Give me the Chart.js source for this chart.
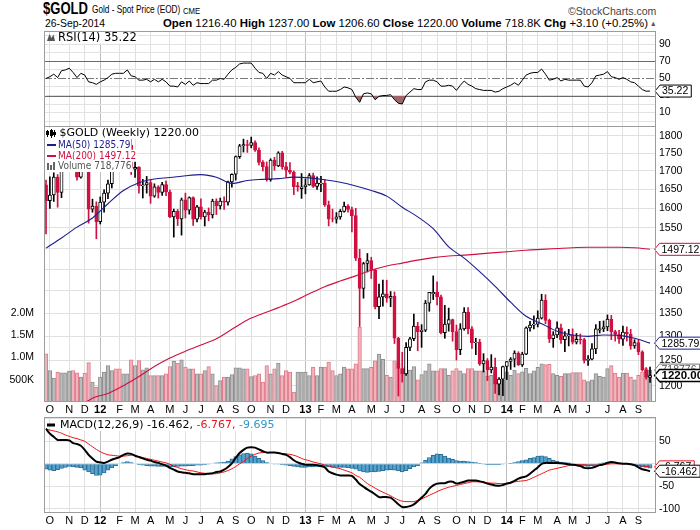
<!DOCTYPE html>
<html>
<head>
<meta charset="utf-8">
<script src="https://cdn.jsdelivr.net/npm/chart.js@4.4.1/dist/chart.umd.min.js"></script>
<style>
html,body{margin:0;padding:0;background:#fff;width:700px;height:530px;overflow:hidden;position:relative}
canvas{position:absolute;left:0}
.t{position:absolute;white-space:nowrap;color:#000;transform-origin:0 0;font-family:"Liberation Sans",Arial,sans-serif}
.t b{font-weight:bold}
</style>
</head>
<body>
<canvas id="cRsi" width="700" height="96" style="top:31px"></canvas>
<canvas id="cMain" width="700" height="291" style="top:126px"></canvas>
<canvas id="cMacd" width="700" height="111" style="top:417px"></canvas>
<script>
// ---------------- DATA (weekly bars, week 0 = 30-Sep-2011 ... week 156 = 26-Sep-2014) ----------------
const symbol = '$GOLD';
const lastDate = '26-Sep-2014';
const opens = [1662,1620,1635,1683,1642,1744,1755,1788,1724,1683,
1746,1711,1598,1606,1566,1616,1640,1665,1738,1725,
1723,1726,1773,1705,1710,1659,1662,1668,1632,1657,
1642,1663,1643,1578,1592,1573,1622,1595,1628,1572,
1604,1578,1590,1583,1619,1606,1619,1616,1670,1691,
1740,1771,1774,1772,1780,1758,1724,1712,1676,1730,
1714,1751,1712,1702,1697,1660,1652,1657,1662,1687,
1658,1664,1667,1609,1573,1572,1578,1592,1606,1597,
1581,1476,1405,1463,1470,1447,1364,1386,1393,1383,
1387,1296,1234,1223,1277,1295,1322,1310,1313,1372,
1393,1396,1386,1308,1326,1336,1310,1272,1316,1352,
1316,1287,1288,1243,1250,1231,1237,1203,1213,1238,
1248,1253,1265,1241,1263,1318,1324,1326,1339,1379,
1334,1295,1303,1318,1293,1301,1302,1288,1294,1293,
1250,1253,1274,1313,1316,1320,1337,1310,1304,1294,
1309,1305,1280,1287,1268,1231,1216.4];
const highs = [1675,1684,1695,1690,1760,1772,1802,1796,1730,1754,
1764,1718,1624,1617,1630,1649,1675,1740,1764,1738,
1745,1790,1792,1726,1712,1677,1685,1675,1665,1660,
1669,1673,1648,1598,1597,1627,1640,1630,1630,1608,
1625,1595,1601,1624,1625,1627,1630,1672,1692,1742,
1775,1790,1787,1796,1785,1765,1729,1725,1734,1738,
1754,1755,1724,1723,1700,1669,1693,1678,1693,1694,
1684,1685,1676,1619,1598,1589,1597,1616,1610,1603,
1600,1497,1466,1487,1478,1450,1415,1424,1424,1398,
1397,1298,1267,1287,1298,1348,1330,1325,1378,1396,
1434,1420,1390,1367,1361,1337,1324,1327,1362,1362,
1321,1296,1294,1264,1254,1262,1255,1216,1239,1248,
1256,1270,1268,1267,1320,1332,1344,1355,1392,1391,
1337,1310,1331,1326,1310,1315,1316,1306,1305,1296,
1260,1285,1325,1332,1333,1346,1345,1313,1313,1322,
1320,1315,1293,1292,1270,1236,1237];
const lows = [1535,1600,1618,1603,1628,1720,1750,1705,1675,1680,
1705,1562,1590,1523,1560,1590,1625,1654,1712,1700,
1710,1723,1690,1682,1640,1627,1640,1613,1629,1627,
1634,1633,1576,1527,1556,1532,1575,1585,1556,1565,
1572,1555,1568,1575,1584,1598,1597,1608,1656,1675,
1735,1753,1752,1765,1755,1717,1700,1672,1672,1702,
1712,1705,1683,1692,1636,1645,1626,1638,1661,1655,
1650,1644,1605,1555,1565,1562,1572,1590,1590,1540,
1470,1321,1383,1443,1428,1359,1338,1365,1374,1364,
1285,1180,1207,1220,1270,1291,1270,1277,1310,1354,
1380,1368,1305,1296,1311,1290,1251,1262,1313,1305,
1275,1262,1240,1227,1210,1225,1185,1182,1181,1212,
1232,1237,1240,1238,1262,1311,1316,1320,1337,1327,
1287,1277,1297,1285,1268,1280,1284,1284,1284,1245,
1240,1251,1264,1307,1310,1312,1293,1290,1285,1281,
1290,1273,1275,1262,1229,1213,1206.6];
const closes = [1620,1635,1683,1642,1744,1755,1788,1724,1683,1746,
1711,1598,1606,1566,1616,1640,1665,1738,1725,1723,
1726,1773,1710,1710,1659,1662,1668,1632,1657,1642,
1663,1643,1578,1592,1573,1622,1595,1628,1572,1604,
1578,1590,1583,1619,1606,1619,1616,1670,1691,1740,
1771,1774,1772,1780,1758,1724,1712,1676,1730,1714,
1751,1712,1702,1697,1657,1657,1657,1662,1687,1658,
1667,1667,1609,1573,1572,1578,1592,1606,1597,1581,
1476,1405,1463,1470,1447,1364,1386,1393,1383,1387,
1296,1234,1223,1277,1295,1322,1310,1313,1372,1396,
1396,1386,1308,1326,1336,1310,1272,1316,1352,1316,
1287,1288,1243,1250,1231,1237,1203,1213,1238,1248,
1253,1265,1241,1263,1318,1324,1326,1339,1379,1334,
1295,1303,1318,1293,1301,1302,1288,1294,1293,1250,
1253,1274,1316,1316,1320,1337,1310,1304,1294,1309,
1305,1280,1287,1268,1231,1216.9,1220];
// weekly volume, thousands
const volumesK = [1085,709,540,672,657,657,695,709,657,560,
650,890,447,333,559,672,822,709,748,748,
635,635,950,822,935,725,770,597,597,597,
597,635,800,920,874,950,784,748,748,635,
635,709,800,635,372,484,559,559,620,770,
770,748,748,575,597,635,447,822,635,748,
874,597,709,672,221,672,672,672,597,784,
597,784,784,897,709,597,635,784,748,748,
860,1685,750,750,780,930,1080,960,600,560,
930,880,750,800,720,800,500,620,700,860,
700,700,750,750,600,700,750,700,640,750,
750,700,700,700,580,600,680,440,500,680,
600,720,640,680,760,640,700,780,860,840,
850,640,600,580,640,640,660,660,660,500,
460,500,640,580,560,750,820,650,560,650,
650,560,500,600,680,750,718.776];
const rsi14 = [50,52,55,51,59,60,62,57,51,56,
54,46,45,43,46,48,51,55,56,56,
56,60,53,52,48,48,49,46,49,46,
49,46,41,41,40,46,43,47,42,45,
44,44,44,48,48,50,49,55,60,63,
67,68,68,68,62,57,56,50,56,54,
58,54,52,50,45,45,45,45,49,45,
46,47,40,35,35,35,37,40,39,37,
28,22,32,33,32,25,29,30,30,31,
25,21,20,30,34,38,37,37,46,48,
48,46,41,41,42,41,36,42,47,43,
41,38,37,36,36,36,34,35,38,40,
42,45,42,48,54,56,57,57,61,55,
48,49,51,47,49,48,48,48,48,41,
40,45,53,54,55,58,52,51,49,51,
49,46,45,41,37,35,35.22];
const macdLine = [78,67,60,53,53,53,52,46,44,40,
31,20,12,5,3,2,5,9,12,15,
20,23,22,18,15,12,9,7,4,2,
-1,-4,-9,-13,-17,-19,-20,-21,-23,-23,
-23,-23,-22,-21,-18,-17,-13,-7,1,13,
24,31,36,37,36,32,28,25,25,25,
24,22,20,15,8,3,0,-2,-2,-2,
-3,-5,-8,-17,-21,-24,-26,-26,-26,-27,
-35,-45,-51,-57,-62,-68,-74,-74,-74,-75,
-82,-90,-96,-96,-94,-90,-83,-75,-67,-55,
-48,-44,-43,-43,-40,-40,-44,-42,-40,-37,
-37,-37,-39,-41,-44,-46,-48,-49,-47,-44,
-42,-38,-33,-30,-28,-22,-15,-8,0,2,
2,2,2,1,0,-1,-2,-3,-5,-9,
-10,-9,-6,-3,-1,2,4,3,1,0,
0,-1,-3,-8,-12,-14,-16.462];
const macdSignal = [77,75,73,71,68,64,61,58,56,53,
50,44,38,32,27,23,20,19,18,17,
17,18,19,19,16,14,12,10,8,6,
4,2,-1,-5,-8,-11,-13,-15,-16,-18,
-20,-21,-22,-22,-22,-20,-18,-15,-11,-6,
0,5,12,17,21,24,25,25,25,25,
24,23,22,21,19,16,12,9,7,4,
2,0,-3,-5,-7,-9,-11,-14,-17,-20,
-26,-30,-37,-44,-49,-54,-59,-63,-67,-71,
-76,-80,-83,-84,-84,-84,-81,-78,-74,-70,
-66,-62,-58,-55,-52,-50,-48,-46,-44,-42,
-40,-40,-40,-41,-42,-43,-43,-44,-44,-43,
-41,-40,-39,-38,-37,-34,-30,-26,-22,-18,
-14,-12,-10,-8,-6,-4,-3,-2,-2,-2,
-3,-3,-3,-3,-2,-1,0,0,0,0,
0,-1,-3,-4,-5,-6,-6.767];
const macdHist = [-12,-14,-15,-13,-10,-8,-6,-7,-8,-9,
-14,-18,-22,-26,-25,-20,-14,-9,-4,0,
3,5,3,0,-2,-3,-4,-5,-5,-6,
-6,-6,-7,-7,-6,-5,-5,-4,-4,-3,
-3,-2,-1,0,2,3,4,6,11,16,
20,23,24,22,17,12,7,3,0,-1,
-1,-2,-3,-4,-6,-7,-8,-8,-7,-7,
-6,-6,-6,-7,-8,-8,-8,-8,-9,-10,
-12,-16,-18,-19,-18,-18,-17,-15,-14,-13,
-14,-16,-18,-15,-11,-7,-4,2,8,14,
19,22,21,17,13,10,7,6,6,5,
4,3,1,-1,-2,-2,-2,-2,-1,0,
1,3,5,7,9,12,14,17,18,16,
12,8,6,4,3,2,0,-1,-2,-5,
-6,-4,-2,1,2,4,4,3,1,0,
0,-1,-3,-5,-7,-8,-9.695];
const ma50Weeks = [0,4,8,12,16,20,24,28,32,36,40,44,48,52,56,60,64,68,72,76,80,84,88,92,96,100,104,108,112,116,120,124,128,132,136,140,144,148,152,156];
const ma50Values = [1500,1525,1552,1575,1612,1647,1668,1678,1682,1687,1690,1683,1666,1674,1677,1679,1683,1681,1676,1669,1659,1647,1632,1603,1578,1548,1503,1476,1444,1410,1374,1343,1327,1311,1303,1300,1303,1302,1296,1285.79];
const ma200Weeks = [10,12,16,20,24,28,32,36,40,44,48,52,56,60,64,68,72,76,80,84,88,92,96,100,104,108,112,116,120,124,128,132,136,140,144,148,152,156];
const ma200Values = [1167,1176,1185,1200,1218,1238,1255,1269,1282,1295,1315,1335,1349,1362,1376,1393,1409,1422,1434,1447,1457,1464,1471,1477,1481,1483,1486,1489,1492,1495,1497,1499,1501,1502,1502,1502,1501,1497.12];
// axis ticks
const monthTickWeeks = [1,6,10,14,19,23,27,32,36,40,45,49,53,58,62,67,71,75,79,84,88,92,97,101,106,110,114,119,123,127,132,136,140,145,149,153];
const monthTickLabels = ['O','N','D','12','F','M','A','M','J','J','A','S','O','N','D','13','F','M','A','M','J','J','A','S','O','N','D','14','F','M','A','M','J','J','A','S'];
const priceTicks = [1200,1250,1300,1350,1400,1450,1500,1550,1600,1650,1700,1750,1800];
const volumeTicksK = [500,1000,1500,2000];
const volumeTickLabels = ['500K','1.0M','1.5M','2.0M'];
const rsiGridLevels = [0,10,20,30,40,50,60,70,80,90,100];
const rsiTickLabels = [10,30,50,70,90];
const rsiBands = [30,70];
const rsiMid = 50;
const macdGridLevels = [-100,-50,0,50,100];
const macdTickLabels = [-100,-50,50];

// ---------------- HEADER ----------------
const N = closes.length - 1;
const chg = closes[N] - closes[N-1];
const chgPct = chg / closes[N-1] * 100;
function place(html, left, base, fs, width, extra) {
  const d = document.createElement('div');
  d.className = 't';
  d.innerHTML = html;
  d.style.left = left + 'px';
  d.style.fontSize = fs + 'px';
  d.style.lineHeight = fs + 'px';
  d.style.top = (base - 0.86 * fs) + 'px';
  if (extra) Object.assign(d.style, extra);
  document.body.appendChild(d);
  const w = d.getBoundingClientRect().width;
  if (width && w > 0) d.style.transform = 'scaleX(' + (width / w) + ')';
  return d;
}
place(symbol, 43.3, 14.5, 16, 45, {fontWeight:'bold'});
place('Gold - Spot Price (EOD)', 91.7, 14, 10.2, 88.3);
place('CME', 182.7, 14, 8.5, 17.3);
place('&copy;StockCharts.com', 568.3, 15, 10.5, 88.4, {color:'#444'});
place(lastDate, 45, 27, 10.5, 60);
place('<b>Open</b> ' + opens[N].toFixed(2) + ' <b>High</b> ' + highs[N].toFixed(2) + ' <b>Low</b> ' + lows[N].toFixed(2) +
      ' <b>Close</b> ' + closes[N].toFixed(2) + ' <b>Volume</b> ' + volumesK[N].toFixed(1) + 'K <b>Chg</b> ' +
      (chg >= 0 ? '+' : '') + chg.toFixed(2) + ' (' + (chg >= 0 ? '+' : '') + chgPct.toFixed(2) + '%)', 162.7, 27, 10.5, 485);
place('&#9650;', 650, 26.5, 7.5, 6.5, {color:'#555'});

// ---------------- CHARTS ----------------
const RED = '#cf1040';
const FONT = '"Liberation Sans", Arial, sans-serif';
Chart.defaults.font.family = FONT;
Chart.defaults.animation = false;

function isYearLabel(i) { return i !== undefined && /^\d+$/.test(monthTickLabels[i]); }
function xAxis(showLabels, height) {
  return {
    type: 'linear', min: -0.52, max: 157.54, offset: false,
    afterBuildTicks: s => { s.ticks = monthTickWeeks.map(v => ({ value: v })); },
    grid: { drawTicks: false, offset: false, color: c => isYearLabel(c.index) ? '#bdbdbd' : '#e0e0e0' },
    border: { display: false },
    ticks: {
      display: showLabels, autoSkip: false, maxRotation: 0, minRotation: 0, padding: 1, color: '#000',
      font: c => ({ family: FONT, size: 11, weight: isYearLabel(c.index) ? 'bold' : 'normal' }),
      callback: (v, i) => monthTickLabels[i]
    },
    afterFit: s => { s.height = height; s.paddingLeft = 0; s.paddingRight = 0; }
  };
}
function rightAxis(extra) {
  return Object.assign({
    position: 'right',
    border: { display: false },
    grid: { drawTicks: false, color: '#e0e0e0' },
    ticks: { padding: 3, color: '#000', font: { family: FONT, size: 10.5 }, autoSkip: false },
    afterFit: s => { s.width = 44; s.paddingTop = 0; s.paddingBottom = 0; }
  }, extra);
}
const panelBorder = {
  id: 'panelBorder',
  afterDraw(c) {
    const a = c.chartArea, x = c.ctx;
    x.save(); x.strokeStyle = '#9c9c9c'; x.lineWidth = 1;
    x.strokeRect(Math.round(a.left) + 0.5, Math.round(a.top) + 0.5, Math.round(a.right - a.left) - 1, Math.round(a.bottom - a.top) - 1);
    x.restore();
  }
};
function drawTag(ctx, x0, y, text, o) {
  ctx.save();
  ctx.font = (o.bold ? 'bold ' : '') + (o.size || 10.5) + 'px ' + FONT;
  const w = ctx.measureText(text).width + 5, h = 12, tip = 5;
  ctx.beginPath();
  ctx.moveTo(x0, y); ctx.lineTo(x0 + tip, y - h / 2); ctx.lineTo(x0 + tip + w, y - h / 2);
  ctx.lineTo(x0 + tip + w, y + h / 2); ctx.lineTo(x0 + tip, y + h / 2); ctx.closePath();
  ctx.fillStyle = '#fff'; ctx.fill();
  ctx.lineWidth = o.lw || 1; ctx.strokeStyle = o.border; ctx.stroke();
  ctx.fillStyle = o.color || '#000'; ctx.textBaseline = 'middle'; ctx.textAlign = 'left';
  ctx.fillText(text, x0 + tip + 2, y + 0.5);
  ctx.restore();
}
function legendText(ctx, text, x, y, font, color) {
  ctx.font = font;
  const w = ctx.measureText(text).width;
  ctx.fillStyle = '#fff'; ctx.fillRect(x - 1, y - 6, w + 2, 12);
  ctx.fillStyle = color; ctx.textBaseline = 'middle'; ctx.fillText(text, x, y + 0.5);
}

// ---- RSI panel ----
const rsiDecor = {
  id: 'rsiDecor',
  beforeDatasetsDraw(c) {
    const y = c.scales.y, a = c.chartArea, x = c.ctx;
    x.save(); x.lineWidth = 1; x.strokeStyle = '#6a6a6a';
    rsiBands.forEach(v => { const p = Math.round(y.getPixelForValue(v)) + 0.5; x.beginPath(); x.moveTo(a.left, p); x.lineTo(a.right, p); x.stroke(); });
    x.setLineDash([8, 2, 2, 2]); x.strokeStyle = '#7a7a7a';
    const p = Math.round(y.getPixelForValue(rsiMid)) + 0.5; x.beginPath(); x.moveTo(a.left, p); x.lineTo(a.right, p); x.stroke();
    x.restore();
  },
  afterDraw(c) {
    const x = c.ctx, y = c.scales.y, a = c.chartArea;
    x.save();
    x.fillStyle = '#555'; x.beginPath(); x.moveTo(47, 10); x.lineTo(49.5, 3); x.lineTo(51.5, 7); x.lineTo(53.5, 3.5); x.lineTo(55, 10); x.closePath(); x.fill();
    legendText(x, 'RSI(14) ' + rsi14[N].toFixed(2), 58, 6.5, '11.5px "DejaVu Sans"', '#000');
    drawTag(x, a.right - 1, y.getPixelForValue(rsi14[N]), rsi14[N].toFixed(2), { border: '#000' });
    x.restore();
  }
};
new Chart(document.getElementById('cRsi'), {
  type: 'line',
  data: { datasets: [{
    data: rsi14.map((v, i) => ({ x: i, y: v })),
    borderColor: '#000', borderWidth: 1, pointRadius: 0, tension: 0,
    fill: { target: { value: 30 }, above: 'rgba(0,0,0,0)', below: '#9e6666' }
  }]},
  options: {
    responsive: false, maintainAspectRatio: false, events: [],
    layout: { padding: { left: 44, right: 0, top: 0, bottom: 0 } },
    plugins: { legend: { display: false }, tooltip: { enabled: false } },
    scales: {
      x: xAxis(false, 0),
      y: rightAxis({
        min: -6.9, max: 105.6,
        afterBuildTicks: s => { s.ticks = rsiGridLevels.map(v => ({ value: v })); },
        grid: { drawTicks: false, color: c => (c.tick && (rsiBands.includes(c.tick.value) || c.tick.value === rsiMid)) ? 'rgba(0,0,0,0)' : '#e2e2e2' },
        ticks: { padding: 3, color: '#000', font: { family: FONT, size: 10.5 }, autoSkip: false,
          callback: v => rsiTickLabels.includes(v) ? String(v) : '' }
      })
    }
  },
  plugins: [rsiDecor, panelBorder]
});

// ---- Price / volume panel ----
const up = closes.map((c, i) => c >= opens[i]);
const volUp = closes.map((c, i) => i > 0 && c >= closes[i - 1]);
const mainDecor = {
  id: 'mainDecor',
  afterDraw(c) {
    const x = c.ctx, a = c.chartArea, yP = c.scales.yP, yV = c.scales.yV;
    x.save();
    x.fillStyle = '#fff'; x.fillRect(45, 2, 13, 44);
    x.strokeStyle = '#000'; x.fillStyle = '#000'; x.lineWidth = 1;
    x.fillRect(47, 4, 1, 7); x.fillRect(46, 5, 3, 4);
    x.fillRect(51, 3, 1, 9); x.strokeRect(50.5, 4.5, 2, 5);
    x.fillRect(54, 4, 1, 7); x.fillRect(53, 6, 3, 3);
    x.fillStyle = '#1c1c8f'; x.fillRect(47, 18, 9, 2);
    x.fillStyle = RED; x.fillRect(47, 29, 9, 2);
    x.fillStyle = '#666'; x.fillRect(47, 37, 2, 7); x.fillRect(50, 39, 2, 5); x.fillRect(53, 36, 2, 8);
    legendText(x, symbol + ' (Weekly) ' + closes[N].toFixed(2), 59.5, 7, '11px "DejaVu Sans"', '#000');
    legendText(x, 'MA(50) ' + ma50Values[ma50Values.length - 1].toFixed(2), 58, 19, '10px "DejaVu Sans Condensed","DejaVu Sans"', '#1c1c8f');
    legendText(x, 'MA(200) ' + ma200Values[ma200Values.length - 1].toFixed(2), 58, 29.7, '10px "DejaVu Sans Condensed","DejaVu Sans"', RED);
    legendText(x, 'Volume ' + Math.round(volumesK[N] * 1000).toLocaleString('en-US'), 58, 40, '10px "DejaVu Sans Condensed","DejaVu Sans"', '#555');
    const xr = a.right - 1.5;
    drawTag(x, xr, yP.getPixelForValue(ma200Values[ma200Values.length - 1]), ma200Values[ma200Values.length - 1].toFixed(2), { border: RED });
    drawTag(x, xr, yP.getPixelForValue(ma50Values[ma50Values.length - 1]), ma50Values[ma50Values.length - 1].toFixed(2), { border: '#1c1c8f' });
    drawTag(x, xr, yV.getPixelForValue(volumesK[N]), String(Math.round(volumesK[N] * 1000)), { border: '#777', color: '#555' });
    drawTag(x, xr, yP.getPixelForValue(closes[N]), closes[N].toFixed(2), { border: '#000', bold: true, size: 11.5, lw: 1.3 });
    x.restore();
  }
};
new Chart(document.getElementById('cMain'), {
  type: 'bar',
  data: { datasets: [
    { type: 'line', data: ma50Weeks.map((w, k) => ({ x: w, y: ma50Values[k] })), yAxisID: 'yP',
      borderColor: '#1c1c8f', borderWidth: 1.1, pointRadius: 0, cubicInterpolationMode: 'monotone', order: 0 },
    { type: 'line', data: ma200Weeks.map((w, k) => ({ x: w, y: ma200Values[k] })), yAxisID: 'yP',
      borderColor: RED, borderWidth: 1.1, pointRadius: 0, cubicInterpolationMode: 'monotone', order: 0 },
    { data: closes.map((c, i) => ({ x: i, y: [Math.min(opens[i], c), Math.max(opens[i], c)] })), yAxisID: 'yP',
      backgroundColor: up.map(u => u ? '#fff' : RED), borderColor: up.map(u => u ? '#000' : RED),
      borderWidth: 1, borderSkipped: false, barThickness: 3.2, grouped: false, order: 1 },
    { data: closes.map((c, i) => ({ x: i, y: [lows[i], highs[i]] })), yAxisID: 'yP',
      backgroundColor: up.map(u => u ? '#000' : RED), borderWidth: 0, barThickness: 1, grouped: false, order: 2 },
    { data: volumesK.map((v, i) => ({ x: i, y: v })), yAxisID: 'yV',
      backgroundColor: volUp.map(u => u ? '#bcbcbc' : '#f0b4bc'), borderColor: volUp.map(u => u ? '#8e8e8e' : '#e07a8a'),
      borderWidth: 1, borderSkipped: 'start', barThickness: 3.6, grouped: false, order: 5 }
  ]},
  options: {
    responsive: false, maintainAspectRatio: false, events: [],
    layout: { padding: 0 },
    plugins: { legend: { display: false }, tooltip: { enabled: false } },
    scales: {
      x: xAxis(true, 15),
      yP: rightAxis({
        type: 'logarithmic', min: 1168.7, max: 1828.6,
        afterBuildTicks: s => { s.ticks = priceTicks.map(v => ({ value: v })); },
        ticks: { padding: 3, color: '#000', font: { family: FONT, size: 10.5 }, autoSkip: false, callback: v => String(v) }
      }),
      yV: {
        position: 'left', min: 0, max: 6216,
        afterBuildTicks: s => { s.ticks = volumeTicksK.map(v => ({ value: v })); },
        grid: { display: false }, border: { display: false },
        ticks: { padding: 2, color: '#000', font: { family: FONT, size: 10.5 }, autoSkip: false,
          callback: v => volumeTickLabels[volumeTicksK.indexOf(v)] },
        afterFit: s => { s.width = 44; s.paddingTop = 0; s.paddingBottom = 0; }
      }
    }
  },
  plugins: [mainDecor, panelBorder]
});

// ---- MACD panel ----
const macdDecor = {
  id: 'macdDecor',
  afterDraw(c) {
    const x = c.ctx, y = c.scales.y, a = c.chartArea;
    x.save();
    x.fillStyle = '#000'; x.fillRect(47, 6.5, 8, 3);
    x.font = '11px "DejaVu Sans"'; x.textBaseline = 'middle';
    let px = 60;
    const parts = [['MACD(12,26,9) ' + macdLine[N].toFixed(3) + ', ', '#000'], [macdSignal[N].toFixed(3) + ', ', '#e8141e'], [macdHist[N].toFixed(3), '#2e97c9']];
    const total = parts.reduce((s, p) => s + x.measureText(p[0]).width, 0);
    x.fillStyle = '#fff'; x.fillRect(px - 1, 2, total + 2, 12);
    parts.forEach(p => { x.fillStyle = p[1]; x.fillText(p[0], px, 8); px += x.measureText(p[0]).width; });
    const xr = a.right - 1.5;
    drawTag(x, xr, y.getPixelForValue(macdSignal[N]), macdSignal[N].toFixed(3), { border: '#e8141e' });
    drawTag(x, xr, y.getPixelForValue(macdLine[N]), macdLine[N].toFixed(3), { border: '#000' });
    x.restore();
  }
};
new Chart(document.getElementById('cMacd'), {
  type: 'bar',
  data: { datasets: [
    { type: 'line', data: macdLine.map((v, i) => ({ x: i, y: v })), borderColor: '#000', borderWidth: 2, pointRadius: 0, tension: 0.3, order: 0 },
    { type: 'line', data: macdSignal.map((v, i) => ({ x: i, y: v })), borderColor: '#f01010', borderWidth: 1, pointRadius: 0, tension: 0.3, order: 1 },
    { data: macdHist.map((v, i) => ({ x: i, y: v })), backgroundColor: '#57a3cf', borderColor: '#2c6f96', borderWidth: 1,
      borderSkipped: 'start', barThickness: 3.9, grouped: false, order: 3 }
  ]},
  options: {
    responsive: false, maintainAspectRatio: false, events: [],
    layout: { padding: { left: 44, right: 0, top: 0, bottom: 0 } },
    plugins: { legend: { display: false }, tooltip: { enabled: false } },
    scales: {
      x: xAxis(true, 15),
      y: rightAxis({
        min: -109.3, max: 104,
        afterBuildTicks: s => { s.ticks = macdGridLevels.map(v => ({ value: v })); },
        ticks: { padding: 3, color: '#000', font: { family: FONT, size: 10.5 }, autoSkip: false,
          callback: v => macdTickLabels.includes(v) ? String(v) : '' }
      })
    }
  },
  plugins: [macdDecor, panelBorder]
});
</script>
</body>
</html>
